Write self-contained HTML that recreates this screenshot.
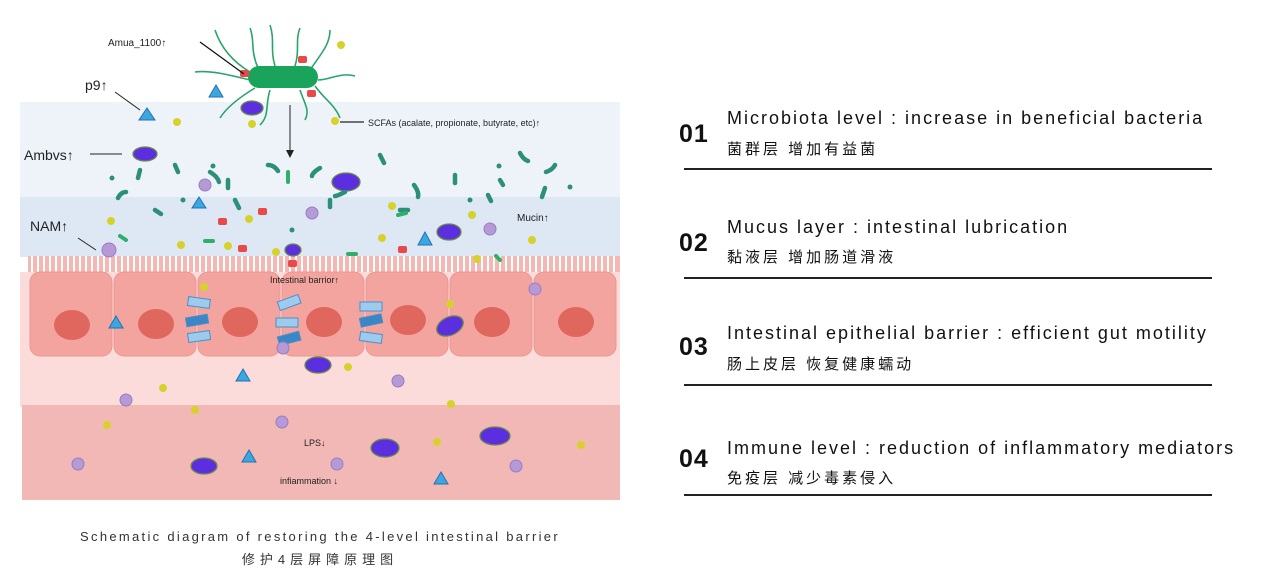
<!DOCTYPE html>
<html><head><meta charset="utf-8"><style>
html,body{margin:0;padding:0;background:#fff;width:1265px;height:578px;overflow:hidden;position:relative;font-family:"Liberation Sans","Noto Sans CJK SC",sans-serif;color:#111}
.num{position:absolute;left:679px;font-size:25px;font-weight:bold;letter-spacing:1px}
.en{position:absolute;left:727px;font-size:18px;letter-spacing:2px;white-space:nowrap}
.cn{position:absolute;left:727px;font-size:15px;letter-spacing:3px;white-space:nowrap;font-family:"Liberation Sans","Noto Sans CJK SC",sans-serif}
.ln{position:absolute;left:684px;width:528px;height:2px;background:#222}
.cap{position:absolute;left:20px;width:600px;text-align:center;font-size:13px;letter-spacing:2.3px;color:#333}
</style></head><body>
<svg width="620" height="520" style="position:absolute;left:0;top:0" xmlns="http://www.w3.org/2000/svg" font-family="Liberation Sans, sans-serif">
<rect x="20" y="102" width="600" height="95" fill="#eef3fa"/>
<rect x="20" y="197" width="600" height="60" fill="#dde8f4"/>
<g fill="#f3b8b3"><rect x="28" y="256" width="592" height="16"/></g>
<g stroke="#fff" stroke-width="2">
<path d="M32 256V272M38 256V272M44 256V272M50 256V272M56 256V272M62 256V272M68 256V272M74 256V272M80 256V272M86 256V272M92 256V272M98 256V272M104 256V272M110 256V272M116 256V272M122 256V272M128 256V272M134 256V272M140 256V272M146 256V272M152 256V272M158 256V272M164 256V272M170 256V272M176 256V272M182 256V272M188 256V272M194 256V272M200 256V272M206 256V272M212 256V272M218 256V272M224 256V272M230 256V272M236 256V272M242 256V272M248 256V272M254 256V272M260 256V272M266 256V272M272 256V272M278 256V272M284 256V272M290 256V272M296 256V272M302 256V272M308 256V272M314 256V272M320 256V272M326 256V272M332 256V272M338 256V272M344 256V272M350 256V272M356 256V272M362 256V272M368 256V272M374 256V272M380 256V272M386 256V272M392 256V272M398 256V272M404 256V272M410 256V272M416 256V272M422 256V272M428 256V272M434 256V272M440 256V272M446 256V272M452 256V272M458 256V272M464 256V272M470 256V272M476 256V272M482 256V272M488 256V272M494 256V272M500 256V272M506 256V272M512 256V272M518 256V272M524 256V272M530 256V272M536 256V272M542 256V272M548 256V272M554 256V272M560 256V272M566 256V272M572 256V272M578 256V272M584 256V272M590 256V272M596 256V272M602 256V272M608 256V272M614 256V272"/></g>
<rect x="20" y="272" width="600" height="135" fill="#fcdcda"/>
<rect x="22" y="405" width="598" height="95" fill="#f2b8b6"/>
<g fill="#f3a49e" stroke="#ec9590">
<rect x="30" y="272" width="82" height="84" rx="10"/><rect x="114" y="272" width="82" height="84" rx="10"/><rect x="198" y="272" width="82" height="84" rx="10"/><rect x="282" y="272" width="82" height="84" rx="10"/><rect x="366" y="272" width="82" height="84" rx="10"/><rect x="450" y="272" width="82" height="84" rx="10"/><rect x="534" y="272" width="82" height="84" rx="10"/></g>
<g fill="#e0675e"><ellipse cx="72" cy="325" rx="18" ry="15"/><ellipse cx="156" cy="324" rx="18" ry="15"/><ellipse cx="240" cy="322" rx="18" ry="15"/><ellipse cx="324" cy="322" rx="18" ry="15"/><ellipse cx="408" cy="320" rx="18" ry="15"/><ellipse cx="492" cy="322" rx="18" ry="15"/><ellipse cx="576" cy="322" rx="18" ry="15"/></g>
<g fill="#9dcbee" stroke="#4a90c8"><rect x="188" y="298" width="22" height="9" transform="rotate(8 199 302)"/><rect x="186" y="316" width="22" height="9" fill="#3b86c6" transform="rotate(-10 197 320)"/><rect x="188" y="332" width="22" height="9" transform="rotate(-8 199 336)"/><rect x="278" y="298" width="22" height="9" transform="rotate(-20 289 302)"/><rect x="276" y="318" width="22" height="9"/><rect x="278" y="334" width="22" height="9" fill="#3b86c6" transform="rotate(-15 289 338)"/><rect x="360" y="302" width="22" height="9"/><rect x="360" y="316" width="22" height="9" fill="#3b86c6" transform="rotate(-12 371 320)"/><rect x="360" y="333" width="22" height="9" transform="rotate(8 371 337)"/></g>
<g stroke="#29a56a" stroke-width="1.6" fill="none">
<path d="M250 72C230 60 220 45 215 30"/><path d="M258 68C250 50 255 40 250 28"/><path d="M275 66C270 50 275 40 270 25"/><path d="M295 66C300 50 295 40 300 28"/><path d="M310 70C320 55 330 45 330 30"/><path d="M318 80C330 80 340 72 355 76"/><path d="M250 80C230 75 210 70 195 72"/><path d="M255 88C235 100 225 110 220 118"/><path d="M270 90C265 105 270 115 260 125"/><path d="M300 90C305 105 310 110 305 120"/><path d="M315 86C325 100 335 105 340 118"/></g>
<rect x="248" y="66" width="70" height="22" rx="11" fill="#1aa35a"/>
<g fill="#e84a4a"><rect x="240" y="70" width="9" height="7" rx="2"/><rect x="298" y="56" width="9" height="7" rx="2"/><rect x="307" y="90" width="9" height="7" rx="2"/><rect x="258" y="208" width="9" height="7" rx="2"/><rect x="218" y="218" width="9" height="7" rx="2"/><rect x="238" y="245" width="9" height="7" rx="2"/><rect x="288" y="260" width="9" height="7" rx="2"/><rect x="398" y="246" width="9" height="7" rx="2"/></g>
<line x1="244" y1="74" x2="200" y2="42" stroke="#111" stroke-width="1.3"/>
<line x1="290" y1="105" x2="290" y2="152" stroke="#222" stroke-width="1"/><path d="M286 150L290 158L294 150Z" fill="#222"/>
<text x="108" y="46" font-size="10" fill="#222">Amua_1100↑</text>
<text x="85" y="90" font-size="14" fill="#222">p9↑</text>
<line x1="115" y1="92" x2="140" y2="110" stroke="#222"/>
<text x="24" y="160" font-size="14" fill="#222">Ambvs↑</text>
<line x1="90" y1="154" x2="122" y2="154" stroke="#222"/>
<text x="30" y="231" font-size="14" fill="#222">NAM↑</text>
<line x1="78" y1="238" x2="96" y2="250" stroke="#222"/>
<line x1="340" y1="122" x2="364" y2="122" stroke="#222" stroke-width="1.3"/>
<text x="368" y="126" font-size="9" fill="#222">SCFAs (acalate,  propionate,  butyrate,  etc)↑</text>
<text x="517" y="221" font-size="10" fill="#222">Mucin↑</text>
<text x="270" y="283" font-size="9" fill="#222">Intestinal barrior↑</text>
<text x="304" y="446" font-size="9" fill="#222">LPS↓</text>
<text x="280" y="484" font-size="9" fill="#222">infiammation ↓</text>
<g fill="#5b2ee0" stroke="#6a8a4a" stroke-width="1.3"><ellipse cx="145" cy="154" rx="12" ry="7"/><ellipse cx="252" cy="108" rx="11" ry="7"/><ellipse cx="346" cy="182" rx="14" ry="9"/><ellipse cx="449" cy="232" rx="12" ry="8"/><ellipse cx="293" cy="250" rx="8" ry="6"/><ellipse cx="450" cy="326" rx="14" ry="9" transform="rotate(-25 450 326)"/><ellipse cx="318" cy="365" rx="13" ry="8"/><ellipse cx="204" cy="466" rx="13" ry="8"/><ellipse cx="385" cy="448" rx="14" ry="9"/><ellipse cx="495" cy="436" rx="15" ry="9"/></g>
<g fill="#3aa7e0" stroke="#2670b0"><path d="M147 108L139 120L155 120Z"/><path d="M216 85L209 97L223 97Z"/><path d="M199 197L192 208L206 208Z"/><path d="M425 232L418 245L432 245Z"/><path d="M116 316L109 328L123 328Z"/><path d="M243 369L236 381L250 381Z"/><path d="M249 450L242 462L256 462Z"/><path d="M441 472L434 484L448 484Z"/></g>
<g fill="#d6d22a"><circle cx="341" cy="45" r="4"/><circle cx="177" cy="122" r="4"/><circle cx="252" cy="124" r="4"/><circle cx="335" cy="121" r="4"/><circle cx="392" cy="206" r="4"/><circle cx="472" cy="215" r="4"/><circle cx="111" cy="221" r="4"/><circle cx="249" cy="219" r="4"/><circle cx="181" cy="245" r="4"/><circle cx="228" cy="246" r="4"/><circle cx="276" cy="252" r="4"/><circle cx="382" cy="238" r="4"/><circle cx="477" cy="259" r="4"/><circle cx="532" cy="240" r="4"/><circle cx="204" cy="287" r="4"/><circle cx="450" cy="304" r="4"/><circle cx="348" cy="367" r="4"/><circle cx="163" cy="388" r="4"/><circle cx="195" cy="410" r="4"/><circle cx="107" cy="425" r="4"/><circle cx="451" cy="404" r="4"/><circle cx="437" cy="442" r="4"/><circle cx="581" cy="445" r="4"/></g>
<g fill="#b59ad6" stroke="#9a7cc4"><circle cx="205" cy="185" r="6"/><circle cx="312" cy="213" r="6"/><circle cx="490" cy="229" r="6"/><circle cx="109" cy="250" r="7"/><circle cx="535" cy="289" r="6"/><circle cx="283" cy="348" r="6"/><circle cx="398" cy="381" r="6"/><circle cx="126" cy="400" r="6"/><circle cx="282" cy="422" r="6"/><circle cx="78" cy="464" r="6"/><circle cx="337" cy="464" r="6"/><circle cx="516" cy="466" r="6"/></g>
<g stroke="#2c8f7a" stroke-width="4.5" stroke-linecap="round" fill="none"><path d="M140 170l-2 8"/><path d="M175 165l3 7"/><path d="M210 172c5 3 8 6 9 10"/><path d="M228 180v8"/><path d="M268 165c5 0 8 3 10 6"/><path d="M320 168c-4 2-8 6-8 8"/><path d="M345 192c-4 2-8 4-10 4"/><path d="M380 155l4 8"/><path d="M414 185c3 4 5 8 4 12"/><path d="M455 175v8"/><path d="M500 180l3 5"/><path d="M520 153c2 4 5 7 8 8"/><path d="M555 165c-2 4-6 6-9 7"/><path d="M545 188l-3 9"/><path d="M118 198c2-4 5-6 8-6"/><path d="M235 200l4 8"/><path d="M330 200v7"/><path d="M400 210h8"/><path d="M155 210l6 4"/><path d="M488 195l3 6"/></g>
<g fill="#2c8f7a"><circle cx="112" cy="178" r="2.5"/><circle cx="213" cy="166" r="2.5"/><circle cx="183" cy="200" r="2.5"/><circle cx="292" cy="230" r="2.5"/><circle cx="470" cy="200" r="2.5"/><circle cx="499" cy="166" r="2.5"/><circle cx="570" cy="187" r="2.5"/></g>
<g stroke="#2db06a" stroke-width="4" stroke-linecap="round"><path d="M288 172v10"/><path d="M120 236l6 4"/><path d="M205 241h8"/><path d="M348 254h8"/><path d="M398 215l8-2"/><path d="M496 256l4 4"/></g>
</svg>
<div class="cap" style="top:529px">Schematic diagram of restoring the 4-level intestinal barrier</div>
<div class="cap" style="top:549px;letter-spacing:5px">修护4层屏障原理图</div>

<div class="num" style="top:120px">01</div>
<div class="en" style="top:108px">Microbiota level : increase in beneficial bacteria</div>
<div class="cn" style="top:138px">菌群层 增加有益菌</div>
<div class="ln" style="top:168px"></div>

<div class="num" style="top:229px">02</div>
<div class="en" style="top:217px">Mucus layer : intestinal lubrication</div>
<div class="cn" style="top:246px">黏液层 增加肠道滑液</div>
<div class="ln" style="top:277px"></div>

<div class="num" style="top:333px">03</div>
<div class="en" style="top:323px">Intestinal epithelial barrier : efficient gut motility</div>
<div class="cn" style="top:353px">肠上皮层 恢复健康蠕动</div>
<div class="ln" style="top:384px"></div>

<div class="num" style="top:445px">04</div>
<div class="en" style="top:438px">Immune level : reduction of inflammatory mediators</div>
<div class="cn" style="top:467px">免疫层 减少毒素侵入</div>
<div class="ln" style="top:494px"></div>
</body></html>
